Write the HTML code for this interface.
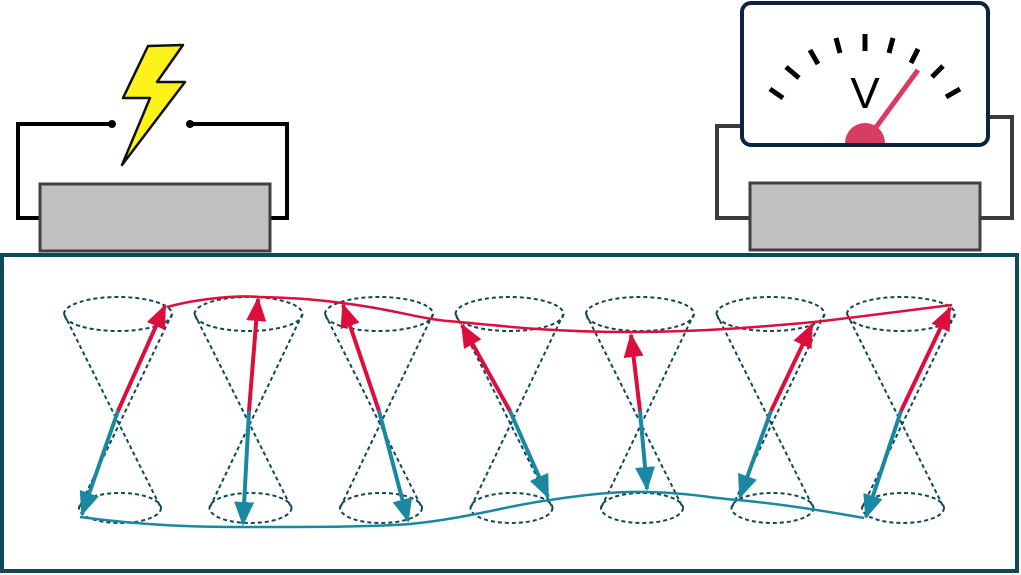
<!DOCTYPE html>
<html><head><style>body{margin:0;background:#fff}svg{display:block}</style></head><body>
<svg width="1021" height="575" viewBox="0 0 1021 575" xmlns="http://www.w3.org/2000/svg">
<defs>
<marker id="ar" markerWidth="6" markerHeight="5" refX="5.5" refY="2.5" orient="auto" markerUnits="strokeWidth"><path d="M0,0 L6,2.5 L0,5 z" fill="#dc0f3c"/></marker>
<marker id="ab" markerWidth="6" markerHeight="5" refX="5.5" refY="2.5" orient="auto" markerUnits="strokeWidth"><path d="M0,0 L6,2.5 L0,5 z" fill="#1a88a3"/></marker>
</defs>
<!-- left circuit -->
<polyline points="40,218 18,218 18,124 112,124" fill="none" stroke="#000" stroke-width="4"/>
<polyline points="190,124 287,124 287,218 270,218" fill="none" stroke="#000" stroke-width="4"/>
<circle cx="112" cy="124" r="4" fill="#000"/><circle cx="190" cy="124" r="4" fill="#000"/>
<polygon points="148,46 183,45 157,82 185,82 122,165 150,98 123,98" fill="#fdf31a" stroke="#111" stroke-width="2.5" stroke-linejoin="round"/>
<rect x="40" y="184" width="230" height="67" fill="#c0c0c0" stroke="#404040" stroke-width="3"/>
<!-- right circuit -->
<polyline points="741,126 717,126 717,218 750,218" fill="none" stroke="#3a3a3a" stroke-width="4"/>
<polyline points="989,117 1012,117 1012,218 980,218" fill="none" stroke="#3a3a3a" stroke-width="4"/>
<rect x="750" y="183" width="230" height="67" fill="#c0c0c0" stroke="#404040" stroke-width="3"/>
<rect x="742" y="3" width="246" height="142" rx="9" fill="#fff" stroke="#0b2540" stroke-width="4"/>
<g stroke="#000" stroke-width="5">
<line x1="770" y1="89" x2="783" y2="98"/>
<line x1="786" y1="67" x2="799" y2="78"/>
<line x1="810" y1="50" x2="818" y2="64"/>
<line x1="836" y1="38" x2="840" y2="53"/>
<line x1="865" y1="34" x2="865" y2="51"/>
<line x1="893" y1="38" x2="889" y2="53"/>
<line x1="918" y1="49" x2="911" y2="63"/>
<line x1="943" y1="66" x2="932" y2="77"/>
<line x1="960" y1="89" x2="946" y2="97"/>
</g>
<text x="865" y="108" font-family="Liberation Sans, sans-serif" font-size="44" text-anchor="middle" fill="#000">V</text>
<line x1="874" y1="130" x2="918" y2="70" stroke="#d83c60" stroke-width="5"/>
<path d="M845,143 A20,20 0 0 1 885,143 Z" fill="#d83c60"/>
<!-- main box -->
<rect x="2" y="255" width="1015" height="316" fill="none" stroke="#0e4a55" stroke-width="4"/>
<g fill="none" stroke="#0e4a55" stroke-width="2" stroke-dasharray="4,3">
<g id="c"><ellipse cx="118" cy="314" rx="54" ry="17"/><ellipse cx="120" cy="508" rx="41" ry="15"/>
<line x1="64" y1="314" x2="161" y2="508"/><line x1="172" y1="314" x2="79" y2="508"/></g>
<use href="#c" x="130.5"/><use href="#c" x="261"/><use href="#c" x="391.5"/><use href="#c" x="522"/><use href="#c" x="652.5"/><use href="#c" x="783"/>
</g>
<path d="M167,307 C200,298 240,295 259,297 C300,298 320,300 342,303 C400,310 420,320 460,322 C520,328 560,332 630,332 C700,332 760,327 814,322 C860,317 910,310 952,305" fill="none" stroke="#dc0f3c" stroke-width="2.5"/>
<path d="M80,517 C140,525 190,527 242,527 C320,527 370,527 410,524 C470,518 510,505 550,500 C590,494 620,491 648,492 C690,493 710,498 738,500 C790,505 830,512 864,518" fill="none" stroke="#1a88a3" stroke-width="2.5"/>
<g stroke="#dc0f3c" stroke-width="4" marker-end="url(#ar)">
<line x1="118" y1="411" x2="165" y2="306"/>
<line x1="249" y1="411" x2="258" y2="299"/>
<line x1="379" y1="411" x2="343" y2="305"/>
<line x1="510" y1="411" x2="462" y2="325"/>
<line x1="640" y1="411" x2="631" y2="335"/>
<line x1="771" y1="411" x2="812" y2="325"/>
<line x1="901" y1="411" x2="950" y2="308"/>
</g>
<g stroke="#1a88a3" stroke-width="4" marker-end="url(#ab)">
<line x1="118" y1="411" x2="82" y2="514"/>
<line x1="249" y1="411" x2="243" y2="524"/>
<line x1="379" y1="411" x2="408" y2="521"/>
<line x1="510" y1="411" x2="548" y2="497"/>
<line x1="640" y1="411" x2="647" y2="489"/>
<line x1="771" y1="411" x2="740" y2="497"/>
<line x1="901" y1="411" x2="866" y2="517"/>
</g>
</svg>
</body></html>
